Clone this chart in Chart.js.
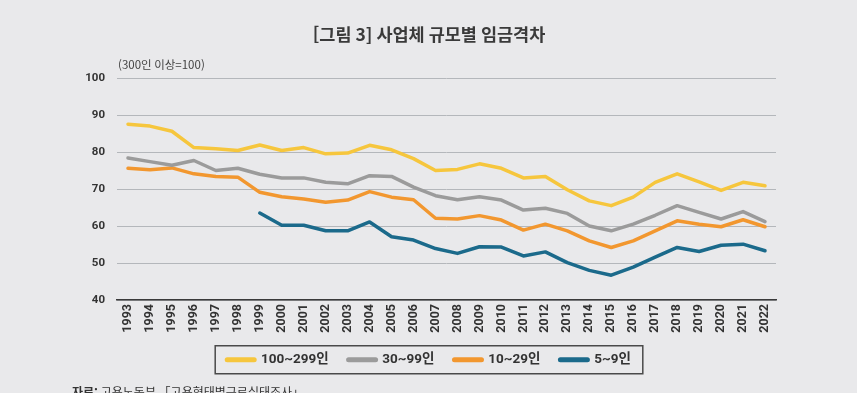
<!DOCTYPE html>
<html lang="ko">
<head>
<meta charset="utf-8">
<script src="https://cdn.jsdelivr.net/npm/chart.js@4"></script>
<style>
  html, body { margin: 0; padding: 0; background: #e9e9eb; }
  canvas { display: block; }
</style>
</head>
<body>
<canvas id="chart" width="857" height="393"></canvas>
<script>
const ctx = document.getElementById("chart");

// 연도
const years = [
  "1993", "1994", "1995", "1996", "1997", "1998", "1999", "2000", "2001", "2002",
  "2003", "2004", "2005", "2006", "2007", "2008", "2009", "2010", "2011", "2012",
  "2013", "2014", "2015", "2016", "2017", "2018", "2019", "2020", "2021", "2022",
];

// 300인 이상 = 100
const size100to299 = [
  87.5, 87, 85.6, 81.2, 80.9, 80.4, 81.9, 80.4, 81.2, 79.5,
  79.7, 81.8, 80.6, 78.2, 75, 75.3, 76.8, 75.6, 73, 73.4,
  69.8, 66.8, 65.5, 67.8, 71.8, 74.1, 71.9, 69.6, 71.8, 70.9,
];
const size30to99 = [
  78.4, 77.4, 76.4, 77.7, 75, 75.6, 74, 73, 73, 71.8,
  71.4, 73.6, 73.4, 70.5, 68.2, 67.1, 67.9, 67, 64.3, 64.8,
  63.4, 60, 58.7, 60.5, 62.9, 65.5, 63.7, 61.9, 63.9, 61.2,
];
const size10to29 = [
  75.6, 75.2, 75.7, 74.1, 73.4, 73.2, 69.1, 67.9, 67.3, 66.4,
  67, 69.3, 67.8, 67.1, 62.1, 61.9, 62.8, 61.6, 58.9, 60.5,
  58.7, 56, 54.2, 56, 58.7, 61.4, 60.5, 59.8, 61.7, 59.8,
];
const size5to9 = [
  null, null, null, null, null, null, 63.5, 60.2, 60.2, 58.7,
  58.7, 61.1, 57.1, 56.2, 53.9, 52.6, 54.4, 54.3, 51.9, 53,
  50.1, 48, 46.7, 48.9, 51.6, 54.2, 53.1, 54.8, 55.1, 53.3,
];

const seriesNames = ["100~299인", "30~99인", "10~29인", "5~9인"];
const yTicks = [40, 50, 60, 70, 80, 90, 100];

const fontFamily = 'Roboto, "Noto Sans CJK KR", sans-serif';

function line(label, data, color) {
  return {
    label: label,
    data: data,
    borderColor: color,
    backgroundColor: color,
    borderWidth: 3.5,
    borderJoinStyle: "round",
    borderCapStyle: "round",
    pointRadius: 0,
    pointHoverRadius: 0,
    tension: 0,
    spanGaps: false,
  };
}

// 범례 테두리, 단위 표기, 출처
const extras = {
  id: "extras",
  afterDraw(chart) {
    const c = chart.ctx;
    const area = chart.chartArea;
    c.save();

    c.fillStyle = "#444";
    c.font = '11.5px "Noto Sans CJK KR", sans-serif';
    c.textBaseline = "middle";
    c.textAlign = "left";
    c.fillText("(300인 이상=100)", area.left + 1, area.top - 13);

    const boxes = chart.legend.legendHitBoxes;
    if (boxes && boxes.length) {
      let left = Infinity;
      let right = -Infinity;
      let mid = 0;
      boxes.forEach((b) => {
        left = Math.min(left, b.left);
        right = Math.max(right, b.left + b.width);
        mid += b.top + b.height / 2;
      });
      mid = mid / boxes.length;
      c.strokeStyle = "#4a4a4a";
      c.lineWidth = 1.5;
      c.strokeRect(left - 12, mid - 14, right - left + 24, 28);
    }

    c.fillStyle = "#333";
    c.textBaseline = "alphabetic";
    c.font = 'bold 12px "Noto Sans CJK KR", sans-serif';
    c.fillText("자료:", 72, 397);
    const w = c.measureText("자료: ").width;
    c.font = '12px "Noto Sans CJK KR", sans-serif';
    c.fillText("고용노동부 「고용형태별근로실태조사」", 72 + w, 397);
    c.restore();
  },
};

new Chart(ctx, {
  type: "line",
  data: {
    labels: years,
    datasets: [
      line(seriesNames[0], size100to299, "#f6c63d"),
      line(seriesNames[1], size30to99, "#9b9b9b"),
      line(seriesNames[2], size10to29, "#f2972f"),
      line(seriesNames[3], size5to9, "#1b6a8b"),
    ],
  },
  options: {
    responsive: false,
    animation: false,
    layout: {
      padding: { left: 82, right: 81, top: 0, bottom: 16.5 },
    },
    scales: {
      x: {
        offset: true,
        grid: { display: false, drawTicks: false },
        border: { display: true, color: "#3a3a3a", width: 1.5 },
        ticks: {
          minRotation: 90,
          maxRotation: 90,
          autoSkip: false,
          padding: 4,
          color: "#333",
          font: { family: fontFamily, size: 12.5, weight: "bold" },
        },
        afterFit(scale) {
          scale.height = 33;
        },
      },
      y: {
        min: 40,
        max: 100,
        afterBuildTicks(scale) {
          scale.ticks = yTicks.map((v) => ({ value: v }));
        },
        grid: { color: "#b4b7bb", lineWidth: 1, drawTicks: false },
        border: { display: false },
        ticks: {
          padding: 12,
          color: "#333",
          font: { family: fontFamily, size: 11.5, weight: "bold" },
        },
        afterFit(scale) {
          scale.width = 35;
        },
      },
    },
    plugins: {
      title: {
        display: true,
        text: "[그림 3] 사업체 규모별 임금격차",
        color: "#3a3a3a",
        font: { family: '"Noto Sans CJK KR", sans-serif', size: 17.5, weight: "bold" },
        padding: { top: 24, bottom: 33 },
      },
      legend: {
        position: "bottom",
        labels: {
          usePointStyle: true,
          pointStyle: "line",
          pointStyleWidth: 27,
          padding: 20,
          color: "#333",
          font: { family: fontFamily, size: 13.5, weight: "bold" },
          generateLabels(chart) {
            const items = Chart.defaults.plugins.legend.labels.generateLabels(chart);
            items.forEach((item) => {
              item.lineWidth = 5;
              item.lineCap = "round";
            });
            return items;
          },
        },
      },
      tooltip: { enabled: false },
    },
  },
  plugins: [extras],
});
</script>
</body>
</html>
